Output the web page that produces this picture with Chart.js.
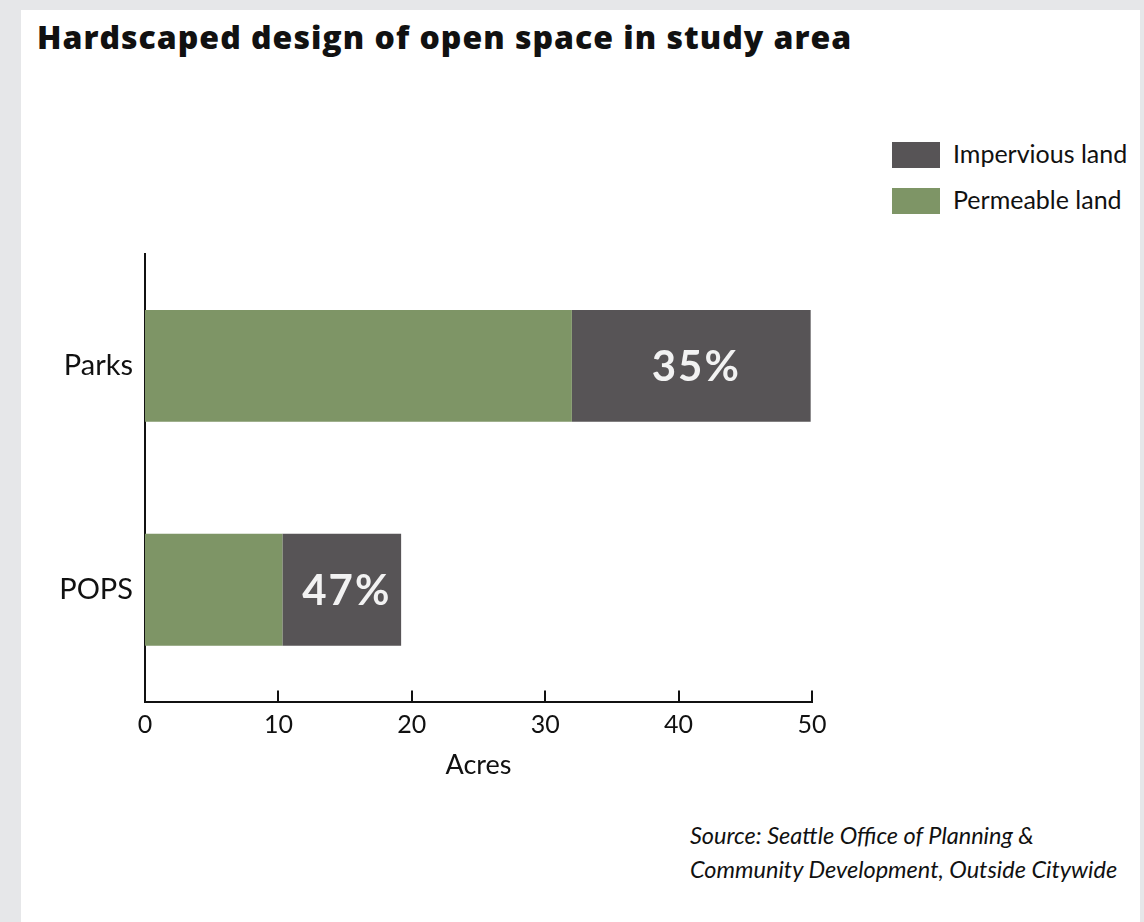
<!DOCTYPE html>
<html>
<head>
<meta charset="utf-8">
<script src="https://cdn.jsdelivr.net/npm/chart.js@4.4.0/dist/chart.umd.min.js"></script>
<style>
    html, body { margin: 0; padding: 0; }
    body { width: 1144px; height: 922px; position: relative; overflow: hidden; background: #e6e7e9; font-family: Lato, sans-serif; color: #111; }
    #panel { position: absolute; left: 21px; top: 10px; width: 1119px; height: 912px; background: #fff; }
    #title { position: absolute; left: 37px; top: 18px; font-family: 'Open Sans', sans-serif; font-size: 32px; font-weight: 800; letter-spacing: 1px; line-height: 1.2; white-space: nowrap; }
    #legend { position: absolute; left: 892px; top: 142px; }
    .lg-row { position: relative; height: 46px; }
    .lg-box { position: absolute; left: 0; top: 0; width: 48px; height: 26px; }
    .lg-text { position: absolute; left: 61px; top: -1px; font-size: 25px; line-height: 1; white-space: nowrap; }
    #source { position: absolute; left: 690px; top: 818px; font-size: 23.5px; font-style: italic; line-height: 34px; white-space: nowrap; }
    #chartBox { position: absolute; left: 0; top: 0; width: 1144px; height: 922px; }
</style>
</head>
<body>
<div id="panel"></div>
<div id="title">Hardscaped design of open space in study area</div>
<div id="legend"></div>
<div id="source">Source: Seattle Office of Planning &amp;<br>Community Development, Outside Citywide</div>
<div id="chartBox"><canvas id="chart"></canvas></div>
<script>
// values (acres)
const categories = ['Parks', 'POPS'];
const permeable = [32.0, 10.3];
const impervious = [17.9, 8.9];
const shareLabels = ['35%', '47%'];
const xTicks = [0, 10, 20, 30, 40, 50];

const GREEN = '#7e9566';
const DARK = '#575456';

// legend (impervious listed first)
document.getElementById('legend').innerHTML = [
    { label: 'Impervious land', color: DARK },
    { label: 'Permeable land', color: GREEN }
].map(l => `
    <div class="lg-row">
        <div class="lg-box" style="background:${l.color}"></div>
        <div class="lg-text">${l.label}</div>
    </div>
`).join('');

// tick marks pointing up into the plot
const innerTicks = {
    id: 'innerTicks',
    afterDraw(chart) {
        const { ctx, scales: { x }, chartArea } = chart;
        ctx.save();
        ctx.strokeStyle = '#111';
        ctx.lineWidth = 2;
        xTicks.forEach(v => {
            const px = Math.round(x.getPixelForValue(v));
            ctx.beginPath();
            ctx.moveTo(px, chartArea.bottom);
            ctx.lineTo(px, chartArea.bottom - 11);
            ctx.stroke();
        });
        ctx.restore();
    }
};

// percentage labels in the impervious segments
const shareText = {
    id: 'shareText',
    afterDatasetsDraw(chart) {
        const ctx = chart.ctx;
        const meta = chart.getDatasetMeta(1);
        ctx.save();
        ctx.fillStyle = '#f2f2f2';
        ctx.font = 'bold 42px Lato, sans-serif';
        ctx.letterSpacing = '2px';
        ctx.textAlign = 'center';
        ctx.textBaseline = 'middle';
        meta.data.forEach((bar, i) => {
            ctx.fillText(shareLabels[i], (bar.x + bar.base) / 2 + 5, bar.y + 2);
        });
        ctx.restore();
    }
};

new Chart(document.getElementById('chart'), {
    type: 'bar',
    data: {
        labels: categories,
        datasets: [
            { label: 'Permeable land', data: permeable, backgroundColor: GREEN },
            { label: 'Impervious land', data: impervious, backgroundColor: DARK }
        ]
    },
    options: {
        indexAxis: 'y',
        responsive: true,
        maintainAspectRatio: false,
        animation: false,
        categoryPercentage: 0.5,
        barPercentage: 1,
        layout: { padding: { top: 254, right: 332, bottom: 139, left: 0 } },
        plugins: {
            legend: { display: false },
            tooltip: { enabled: false }
        },
        scales: {
            x: {
                stacked: true,
                min: 0,
                max: 50,
                afterBuildTicks(scale) { scale.ticks = xTicks.map(v => ({ value: v })); },
                grid: { display: false, drawTicks: false },
                border: { display: true, color: '#111', width: 2 },
                ticks: { color: '#111', padding: 8, font: { family: 'Lato', size: 25 } },
                title: { display: true, text: 'Acres', color: '#111', padding: { top: 1, bottom: 2 }, font: { family: 'Lato', size: 27 } }
            },
            y: {
                stacked: true,
                grid: { display: false, drawTicks: false },
                border: { display: true, color: '#111', width: 2 },
                ticks: { color: '#111', padding: 12, font: { family: 'Lato', size: 29 } },
                afterFit(scale) { scale.width = 145; }
            }
        }
    },
    plugins: [innerTicks, shareText]
});
</script>
</body>
</html>
